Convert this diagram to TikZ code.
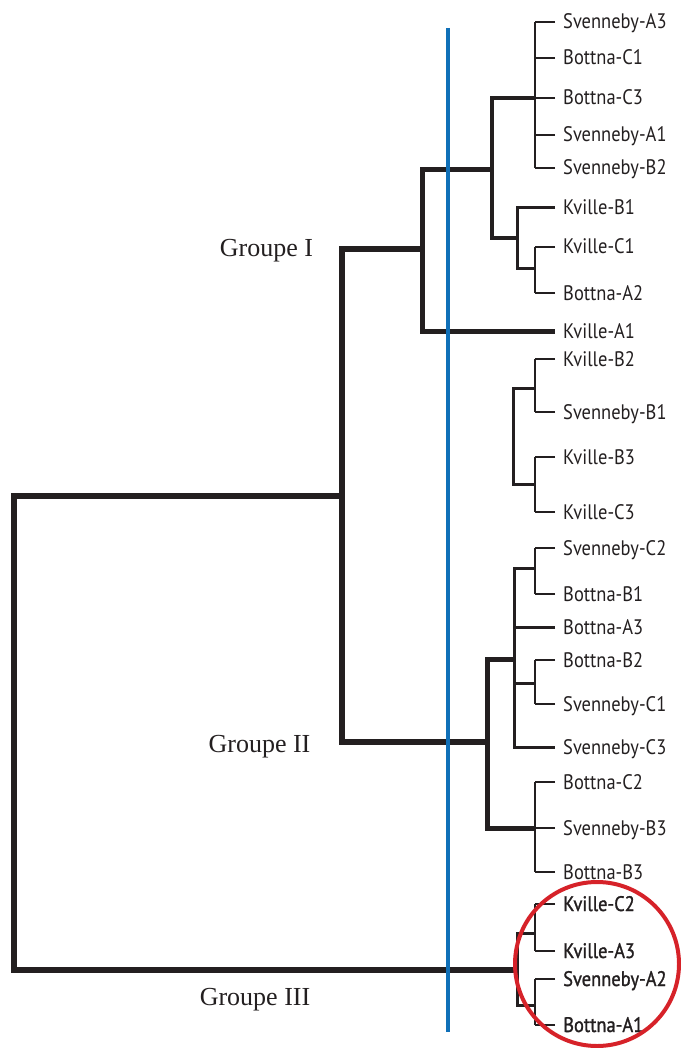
\documentclass[tikz,border=0pt]{standalone}
\usepackage{fontspec}
\setmainfont{Liberation Serif}
\newfontfamily\leaffont[FakeStretch=0.88]{PT Sans}
\newfontfamily\leafsemi[FakeStretch=0.88,FakeBold=1.2]{PT Sans}
\definecolor{ink}{HTML}{231F20}
\definecolor{bluel}{HTML}{1070B8}
\definecolor{redc}{HTML}{D62229}
\begin{document}
\begin{tikzpicture}[x=1pt,y=-1pt,line join=miter,
  leafw/.style={draw=ink,line width=1.8pt},
  wthree/.style={draw=ink,line width=3pt},
  wfour/.style={draw=ink,line width=4pt},
  wfive/.style={draw=ink,line width=5pt},
  wsix/.style={draw=ink,line width=6.5pt},
  leaf/.style={anchor=base west,inner sep=0pt,xshift=8pt,yshift=-7pt,
    font=\leaffont\fontsize{21}{24}\selectfont,text=ink},
  leafb/.style={leaf,font=\leafsemi\fontsize{21}{24}\selectfont},
  grp/.style={anchor=base,inner sep=0pt,font=\fontsize{26}{30}\selectfont,text=ink}]
\useasboundingbox (0,0) rectangle (680,1048);
% leaf tips
\foreach \i/\y in {1/22,2/58,3/98,4/135,5/168,6/208,7/247,8/293,9/331,
  10/359,11/412,12/457,13/512,14/548,15/594,16/627,17/660,18/704,19/747,
  20/782,21/828,22/872,23/904,24/951,25/979,26/1025}
  \coordinate (L\i) at (555,\y);
\coordinate (bx) at (535,0);
% labels
\node[leaf] (n1) at (L1) {Svenneby-A3};
\node[leaf] (n2) at (L2) {Bottna-C1};
\node[leaf] (n3) at (L3) {Bottna-C3};
\node[leaf] (n4) at (L4) {Svenneby-A1};
\node[leaf] (n5) at (L5) {Svenneby-B2};
\node[leaf] (n6) at (L6) {Kville-B1};
\node[leaf] (n7) at (L7) {Kville-C1};
\node[leaf] (n8) at (L8) {Bottna-A2};
\node[leaf] (n9) at (L9) {Kville-A1};
\node[leaf] (n10) at (L10) {Kville-B2};
\node[leaf] (n11) at (L11) {Svenneby-B1};
\node[leaf] (n12) at (L12) {Kville-B3};
\node[leaf] (n13) at (L13) {Kville-C3};
\node[leaf] (n14) at (L14) {Svenneby-C2};
\node[leaf] (n15) at (L15) {Bottna-B1};
\node[leaf] (n16) at (L16) {Bottna-A3};
\node[leaf] (n17) at (L17) {Bottna-B2};
\node[leaf] (n18) at (L18) {Svenneby-C1};
\node[leaf] (n19) at (L19) {Svenneby-C3};
\node[leaf] (n20) at (L20) {Bottna-C2};
\node[leaf] (n21) at (L21) {Svenneby-B3};
\node[leaf] (n22) at (L22) {Bottna-B3};
\node[leafb] (n23) at (L23) {Kville-C2};
\node[leafb] (n24) at (L24) {Kville-A3};
\node[leafb] (n25) at (L25) {Svenneby-A2};
\node[leafb] (n26) at (L26) {Bottna-A1};
% group labels
\node[grp] (gI) at (266.5,257) {Groupe I};
\node[grp] (gII) at (259.5,752) {Groupe II};
\node[grp] (gIII) at (255,1005) {Groupe III};
% thin leaf ticks
\foreach \i in {1,2,3,4,5,7,8,10,11,12,13,14,15,17,18,20,21,22,23,24,25,26}
  \draw[leafw] (L\i) -- ++(-20,0);
% bars
\foreach \a/\b in {1/5,7/8,10/11,12/13,14/15,17/18,20/22,23/24,25/26}
  \draw[leafw] (L\a -| bx) -- (L\b -| bx);
% internal coordinates
\coordinate (r0) at (14,496);
\coordinate (gr) at (342,496);
\coordinate (c1) at (422,249);
\coordinate (d1) at (492,170);
\coordinate (b1) at (535,98);
\coordinate (e1) at (517,238);
\coordinate (f1) at (535,269);
\coordinate (h1) at (535,388);
\coordinate (h0) at (513,436);
\coordinate (h2) at (535,484);
\coordinate (c2) at (487,742);
\coordinate (k0) at (514,659);
\coordinate (k1) at (535,568);
\coordinate (k2) at (535,683);
\coordinate (k3) at (535,828);
\coordinate (c3) at (517,970);
\coordinate (m1) at (535,933);
\coordinate (m2) at (535,1005);
% Group I
\draw[wthree] (L6) -| (e1) |- (f1);
\draw[wfour] (b1) -| (d1) |- (e1);
\draw[wfive] (d1) -| (c1) |- (L9);
% floating cluster
\draw[wthree] (h1) -| (h0) |- (h2);
% Group II
\draw[wthree] (k1) -| (k0) |- (L19);
\draw[wthree] (L16) -- (L16 -| k0);
\draw[wthree] (k2) -- (k2 -| k0);
\draw[wfive] (k0) -| (c2) |- (k3);
% Group III
\draw[wthree] (m1) -| (c3) |- (m2);
% upper levels
\draw[wsix] (c1) -| (gr) |- (c2);
\draw[wsix] (gr) -- (r0) |- (c3);
% blue line
\coordinate (bt) at (448,28);
\coordinate (bb) at (448,1032);
\draw[draw=bluel,line width=4.5pt] (bt) -- (bb);
% red circle
\coordinate (rc) at (597,964);
\draw[draw=redc,line width=4pt] (rc) circle[radius=82];
\end{tikzpicture}
\end{document}
